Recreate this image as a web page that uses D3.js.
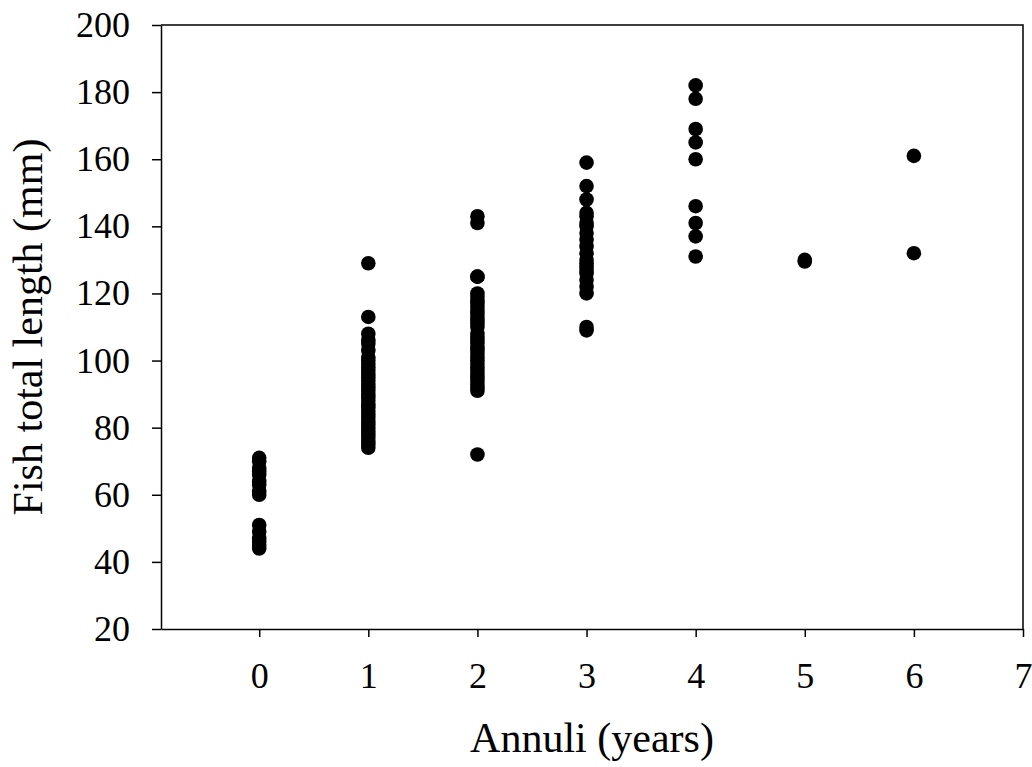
<!DOCTYPE html>
<html>
<head>
<meta charset="utf-8">
<script src="https://cdn.jsdelivr.net/npm/d3@7"></script>
<style>
  body { margin: 0; background: #fff; }
  svg text { font-family: "Liberation Serif", "Times New Roman", serif; fill: #000; }
</style>
</head>
<body>
<div id="chart"></div>
<script>
// Fish total length (mm) by number of annuli
const ages = [0, 1, 2, 3, 4, 5, 6];
const age0 = [71, 70, 68, 67, 66, 64, 63, 61, 60, 51, 49, 47, 46, 45, 44];
const age1 = [129, 113, 108, 106, 105, 103, 101, 100, 99, 98, 97, 96, 95, 94, 93, 92, 91, 90,
              89, 88, 87, 86, 85, 84, 83, 82, 81, 80, 79, 78, 77, 76, 75, 74];
const age2 = [143, 141, 125, 125, 120, 119, 118, 117, 116, 115, 114, 113, 112, 111, 110, 108,
              107, 106, 105, 104, 103, 102, 101, 100, 99, 98, 97, 96, 95, 94, 93, 92, 91, 72];
const age3 = [159, 152, 148, 144, 143, 141, 140, 138, 136, 134, 132, 130, 129, 128, 127, 126,
              124, 122, 120, 110, 109];
const age4 = [182, 178, 169, 165, 160, 146, 141, 137, 131];
const age5 = [130, 129.5];
const age6 = [161, 132];
const xTicks = [0, 1, 2, 3, 4, 5, 6, 7];
const yTicks = [20, 40, 60, 80, 100, 120, 140, 160, 180, 200];

const lengths = [age0, age1, age2, age3, age4, age5, age6];
const points = [];
ages.forEach((a, i) => lengths[i].forEach((v) => points.push({ age: a, len: v })));

const width = 1032;
const height = 767;
const margin = { top: 25, right: 9, bottom: 138, left: 161 };

const svg = d3
  .select("#chart")
  .append("svg")
  .attr("width", width)
  .attr("height", height);

const x = d3
  .scaleLinear()
  .domain([-0.9, 7])
  .range([margin.left, width - margin.right]);
const y = d3
  .scaleLinear()
  .domain([20, 200])
  .range([height - margin.bottom, margin.top]);

// frame (top and right sides)
svg
  .append("path")
  .attr("d", `M${x(-0.9)},${y(200)}H${x(7)}V${y(20)}`)
  .attr("fill", "none")
  .attr("stroke", "#000")
  .attr("stroke-width", 1.5);

// axes
const xAxis = svg
  .append("g")
  .attr("transform", `translate(0,${y(20)})`)
  .call(d3.axisBottom(x).tickValues(xTicks).tickSize(8).tickPadding(25).tickSizeOuter(0));
const yAxis = svg
  .append("g")
  .attr("transform", `translate(${x(-0.9)},0)`)
  .call(d3.axisLeft(y).tickValues(yTicks).tickSize(9).tickPadding(22).tickSizeOuter(0));

[xAxis, yAxis].forEach((g) => {
  g.selectAll("path, line").attr("stroke", "#000").attr("stroke-width", 1.5);
  g.selectAll("text").style("font-size", "36px").attr("font-family", null);
});

// axis titles
svg
  .append("text")
  .attr("x", (x(-0.9) + x(7)) / 2)
  .attr("y", 752)
  .attr("text-anchor", "middle")
  .style("font-size", "42px")
  .text("Annuli (years)");

svg
  .append("text")
  .attr("transform", `translate(42,${(y(20) + y(200)) / 2}) rotate(-90)`)
  .attr("text-anchor", "middle")
  .style("font-size", "42px")
  .text("Fish total length (mm)");

// points
svg
  .append("g")
  .selectAll("circle")
  .data(points)
  .enter()
  .append("circle")
  .attr("cx", (d) => x(d.age))
  .attr("cy", (d) => y(d.len))
  .attr("r", 7.3)
  .attr("fill", "#000");
</script>
</body>
</html>
